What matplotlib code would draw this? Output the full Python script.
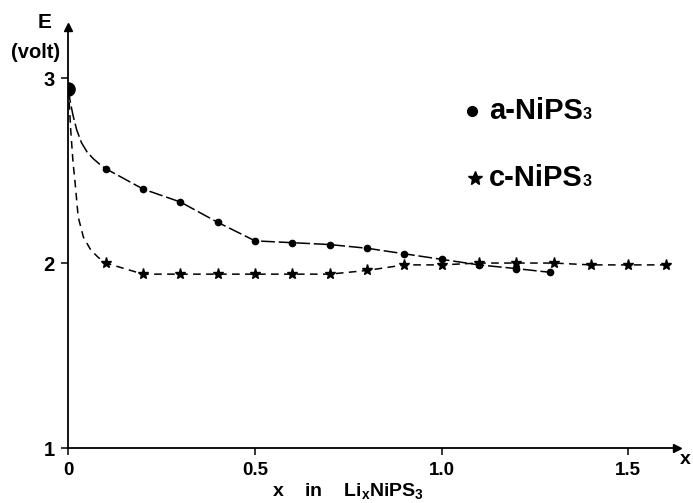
import numpy as np
import matplotlib
matplotlib.use("Agg")
import matplotlib.pyplot as plt

plt.rcParams['font.family'] = ['Liberation Sans', 'DejaVu Sans']
plt.rcParams['font.weight'] = 'bold'
plt.rcParams['mathtext.fontset'] = 'custom'
plt.rcParams['mathtext.rm'] = 'Liberation Sans:bold'
plt.rcParams['mathtext.bf'] = 'Liberation Sans:bold'
plt.rcParams['mathtext.default'] = 'rm'

# a-NiPS3 (circles)
a_x = [0.0, 0.1, 0.2, 0.3, 0.4, 0.5, 0.6, 0.7, 0.8, 0.9, 1.0, 1.1, 1.2, 1.29]
a_y = [2.94, 2.51, 2.40, 2.33, 2.22, 2.12, 2.11, 2.10, 2.08, 2.05, 2.02, 1.99, 1.97, 1.95]
# shape of the drawn curve near x=0
a_start_x = [0.0, 0.004, 0.012, 0.022, 0.035, 0.05, 0.066, 0.083]
a_start_y = [2.94, 2.88, 2.80, 2.72, 2.65, 2.60, 2.565, 2.535]

# c-NiPS3 (stars)
c_x = [0.0, 0.1, 0.2, 0.3, 0.4, 0.5, 0.6, 0.7, 0.8, 0.9, 1.0, 1.1, 1.2, 1.3, 1.4, 1.5, 1.6]
c_y = [2.94, 2.00, 1.94, 1.94, 1.94, 1.94, 1.94, 1.94, 1.96, 1.99, 1.99, 2.00, 2.00, 2.00, 1.99, 1.99, 1.99]
c_start_x = [0.0, 0.006, 0.012, 0.018, 0.026, 0.04, 0.06, 0.08]
c_start_y = [2.94, 2.72, 2.55, 2.43, 2.25, 2.14, 2.07, 2.03]

x_ticks = [0, 0.5, 1.0, 1.5]
x_tick_labels = ['0', '0.5', '1.0', '1.5']
y_ticks = [1, 2, 3]

fig = plt.figure(figsize=(6.93, 5.03), dpi=100)
ax = fig.add_axes([0.0988, 0.1093, 0.8777, 0.837])

# curves
ax.plot(a_start_x + a_x[1:], a_start_y + a_y[1:], color='black', lw=1.1,
        linestyle=(0, (9, 2.5)))
ax.plot(a_x[1:], a_y[1:], 'o', color='black', ms=4.5)
ax.plot(c_start_x + c_x[1:], c_start_y + c_y[1:], color='black', lw=1.1,
        linestyle=(0, (5, 3.5)))
ax.plot(c_x[1:], c_y[1:], '*', color='black', ms=8)
ax.plot(a_x[0], a_y[0], 'o', color='black', ms=9.5)

ax.set_xlim(0, 1.63)
ax.set_ylim(1, 3.276)

ax.spines['top'].set_visible(False)
ax.spines['right'].set_visible(False)
ax.spines['left'].set_linewidth(1.3)
ax.spines['bottom'].set_linewidth(1.3)
ax.plot(1, 0, '>k', ms=6, transform=ax.transAxes, clip_on=False)
ax.plot(0, 1, '^k', ms=6, transform=ax.transAxes, clip_on=False)

ax.set_xticks(x_ticks)
ax.set_xticklabels(x_tick_labels, fontsize=13.5, fontweight='bold')
ax.set_yticks(y_ticks)
ax.set_yticklabels([str(v) for v in y_ticks], fontsize=14.5, fontweight='bold')
ax.tick_params(direction='out', length=5, width=1.1, pad=5)

ax.text(0.75, 0.765, r'x    in    Li$_\mathrm{x}$NiPS$_\mathrm{3}$', fontsize=14,
        fontweight='bold', ha='center', va='center', transform=ax.transData,
        clip_on=False)

fig.text(45 / 693, 1 - 23 / 503, 'E', fontsize=15, fontweight='bold',
         ha='center', va='center')
fig.text(36 / 693, 1 - 53 / 503, '(volt)', fontsize=14.5, fontweight='bold',
         ha='center', va='center')
fig.text(685 / 693, 1 - 460 / 503, 'x', fontsize=14, fontweight='bold',
         ha='center', va='center')

# legend drawn by hand
ax.plot(1.081, 2.82, 'o', color='black', ms=7)
ax.plot(1.09, 2.46, '*', color='black', ms=10)
t1 = ax.text(1.127, 2.82, 'a-NiPS', fontsize=21, fontweight='bold', va='center')
t2 = ax.text(1.127, 2.46, 'c-NiPS', fontsize=21, fontweight='bold', va='center')
fig.canvas.draw()
for t in (t1, t2):
    bb = t.get_window_extent()
    x_end = ax.transData.inverted().transform((bb.x1, bb.y0))
    base = ax.transData.inverted().transform((bb.x1, bb.y0 + 0.22 * bb.height))
    ax.text(x_end[0], base[1], '3', fontsize=11.5, fontweight='bold', va='baseline')

fig.savefig('out.png', dpi=100)
